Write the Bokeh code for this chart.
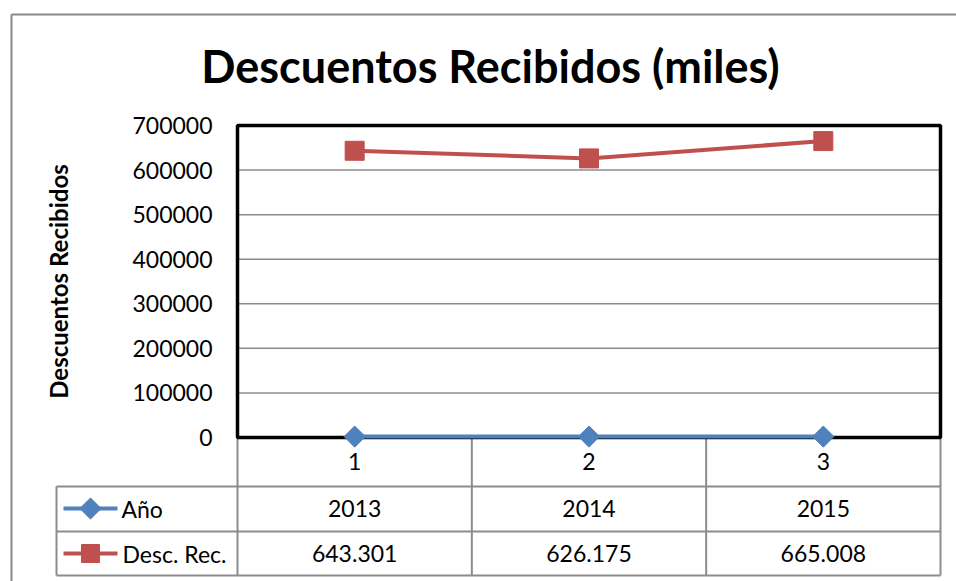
import math
from bokeh.plotting import figure
from bokeh.models import (Range1d, LinearAxis, FixedTicker, BasicTickFormatter,
                          ColumnDataSource, Label)
from bokeh.embed import file_html
from bokeh.resources import INLINE
from bokeh.core.properties import value

# ---------------- data ----------------
categories = [1, 2, 3]
anio = [2013, 2014, 2015]
desc_rec = [643301, 626175, 665008]
anio_labels = ["2013", "2014", "2015"]
desc_labels = ["643.301", "626.175", "665.008"]
series_names = ["Año", "Desc. Rec."]
y_ticks = [0, 100000, 200000, 300000, 400000, 500000, 600000, 700000]
title_text = "Descuentos Recibidos (miles)"
y_title = "Descuentos Recibidos"

# ---------------- layout (pixels) ----------------
W, H = 956, 581
PL, PR, PT, PB = 237, 940, 125, 437
YMAX = 700000
SX = (PR - PL) / 3.0
SY = (PB - PT) / YMAX


def X(px):
    return 0.5 + (px - PL) / SX


def Y(py):
    return (PB - py) / SY


FONT = "Lato"
BLUE = "#4F81BD"
RED = "#C0504D"
GRID = "#8c8c8c"

p = figure(width=W, height=H, output_backend="svg", toolbar_location=None,
           x_range=Range1d(X(0), X(W)), y_range=Range1d(Y(H), Y(0)),
           x_axis_type=None, y_axis_type=None, min_border=0,
           min_border_left=0, min_border_right=0, min_border_top=0, min_border_bottom=0)
p.outline_line_color = None
p.background_fill_color = "white"
p.border_fill_color = "white"

# outer chart border (left and top edges only; the rest lies outside the view)
p.segment(x0=[X(11), X(11)], x1=[X(11), X(W)], y0=[Y(H), Y(14)], y1=[Y(14), Y(14)],
          line_color="#8a8a8a", line_width=2)

# horizontal gridlines
p.segment(x0=0.5, x1=3.5, y0=y_ticks[1:], y1=y_ticks[1:], line_color=GRID, line_width=1.5)

# data table lines
tbl_top, tbl_mid, tbl_bot, tbl_left = 486, 531, 575, 56
p.segment(x0=[0.5, 1.5, 2.5, 3.5], x1=[0.5, 1.5, 2.5, 3.5],
          y0=[0, 0, 0, 0], y1=[Y(tbl_bot)] * 4, line_color=GRID, line_width=2)
p.segment(x0=[X(tbl_left)] * 3, x1=[3.5] * 3,
          y0=[Y(tbl_top), Y(tbl_mid), Y(tbl_bot)], y1=[Y(tbl_top), Y(tbl_mid), Y(tbl_bot)],
          line_color=GRID, line_width=2)
p.segment(x0=[X(tbl_left)], x1=[X(tbl_left)], y0=[Y(tbl_top)], y1=[Y(tbl_bot)],
          line_color=GRID, line_width=2)

# plot-area border
p.quad(left=[0.5], right=[3.5], bottom=[0], top=[YMAX], fill_color=None,
       line_color="black", line_width=3.5)

# series
src = ColumnDataSource(dict(x=categories, anio=anio, desc=desc_rec))
p.line("x", "desc", source=src, line_color=RED, line_width=4)
p.scatter("x", "desc", source=src, marker="square", size=19, fill_color=RED, line_color=RED)
p.line("x", "anio", source=src, line_color=BLUE, line_width=4)
p.scatter("x", "anio", source=src, marker="square", angle=math.pi / 4, size=15,
          fill_color=BLUE, line_color=BLUE)

# table texts
row1_y, row2_y = Y(508), Y(553)
p.text(x=categories, y=[row1_y] * 3, text=anio_labels, text_align="center",
       text_baseline="middle", text_font=value(FONT), text_font_size=value("23px"),
       text_color="black")
p.text(x=categories, y=[row2_y] * 3, text=desc_labels, text_align="center",
       text_baseline="middle", text_font=value(FONT), text_font_size=value("23px"),
       text_color="black")

# legend keys inside table
p.line(x=[X(63), X(117)], y=[row1_y, row1_y], line_color=BLUE, line_width=4)
p.scatter(x=[X(90)], y=[row1_y], marker="square", angle=math.pi / 4, size=15,
          fill_color=BLUE, line_color=BLUE)
p.line(x=[X(63), X(117)], y=[row2_y, row2_y], line_color=RED, line_width=4)
p.scatter(x=[X(90)], y=[row2_y], marker="square", size=18, fill_color=RED, line_color=RED)
p.text(x=[X(121), X(122)], y=[row1_y, row2_y], text=series_names, text_align="left",
       text_baseline="middle", text_font=value(FONT), text_font_size=value("23px"),
       text_color="black")

# title
p.add_layout(Label(x=X(490), y=Y(65), text=title_text, text_align="center",
                   text_baseline="middle", text_font=FONT, text_font_size="45px",
                   text_font_style="bold", text_color="black"))

# y axis
yaxis = LinearAxis(ticker=FixedTicker(ticks=y_ticks),
                   formatter=BasicTickFormatter(use_scientific=False),
                   fixed_location=0.5, bounds=(0, YMAX))
yaxis.axis_line_color = None
yaxis.major_tick_line_color = None
yaxis.minor_tick_line_color = None
yaxis.major_tick_in = 0
yaxis.major_tick_out = 0
yaxis.major_label_standoff = 25
yaxis.major_label_text_font = FONT
yaxis.major_label_text_font_size = "23px"
yaxis.major_label_text_color = "black"
yaxis.axis_label = y_title
yaxis.axis_label_text_font = FONT
yaxis.axis_label_text_font_size = "24px"
yaxis.axis_label_text_font_style = "bold"
yaxis.axis_label_text_color = "black"
yaxis.axis_label_standoff = 56
p.add_layout(yaxis, "left")

# x axis (category row)
xaxis = LinearAxis(ticker=FixedTicker(ticks=categories), fixed_location=0, bounds=(0.5, 3.5))
xaxis.axis_line_color = None
xaxis.major_tick_line_color = None
xaxis.minor_tick_line_color = None
xaxis.major_tick_in = 0
xaxis.major_tick_out = 0
xaxis.major_label_standoff = 15
xaxis.major_label_text_font = FONT
xaxis.major_label_text_font_size = "23px"
xaxis.major_label_text_color = "black"
p.add_layout(xaxis, "below")

open("out.html", "w").write(file_html(p, INLINE))
